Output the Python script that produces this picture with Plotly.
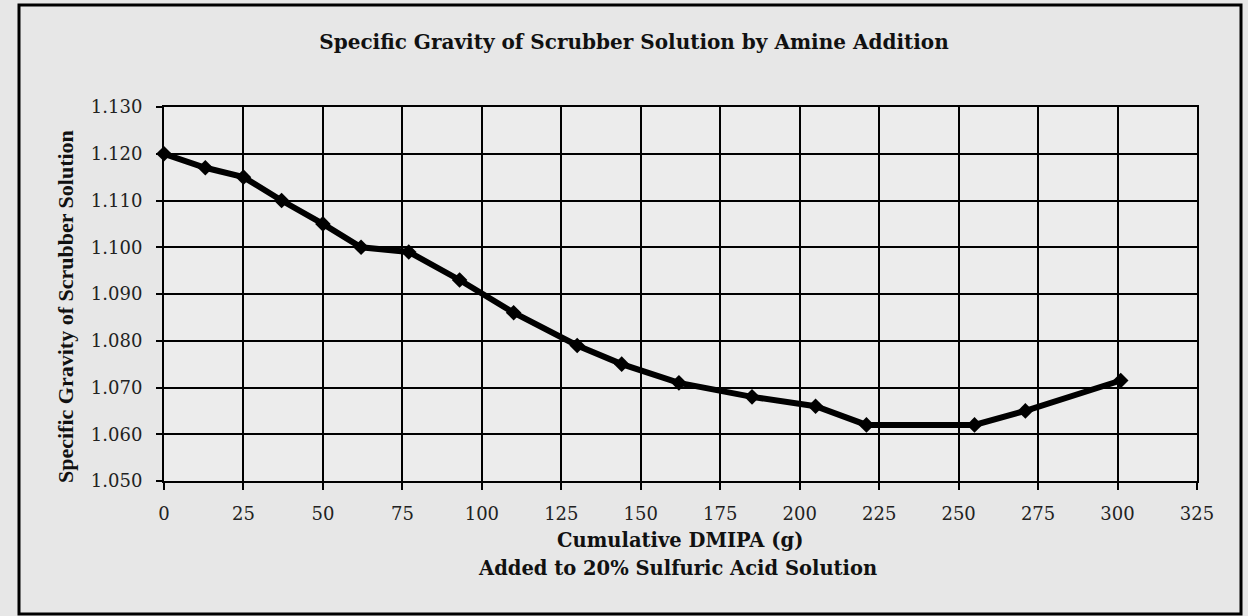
import plotly.graph_objects as go

# Data
dmipa_g = [0, 13, 25, 37, 50, 62, 77, 93, 110, 130, 144, 162, 185, 205, 221, 255, 271, 301]
specific_gravity = [1.120, 1.117, 1.115, 1.110, 1.105, 1.100, 1.099, 1.093, 1.086, 1.079,
                    1.075, 1.071, 1.068, 1.066, 1.062, 1.062, 1.065, 1.0715]
x_ticks = [0, 25, 50, 75, 100, 125, 150, 175, 200, 225, 250, 275, 300, 325]
y_ticks = [1.050, 1.060, 1.070, 1.080, 1.090, 1.100, 1.110, 1.120, 1.130]

title_text = "Specific Gravity of Scrubber Solution by Amine Addition"
x_title_1 = "Cumulative DMIPA (g)"
x_title_2 = "Added to 20% Sulfuric Acid Solution"
y_title = "Specific Gravity of Scrubber Solution"

W, H = 1248, 616
L, R, T, B = 164, 51, 107, 135
pw, ph = W - L - R, H - T - B

def px(xp):
    return (xp - L) / pw

def py(yp):
    return (H - B - yp) / ph

serif = "DejaVu Serif"
times = "Liberation Serif"

fig = go.Figure()
fig.add_trace(go.Scatter(
    x=dmipa_g, y=specific_gravity, mode="lines+markers",
    line=dict(color="black", width=6),
    marker=dict(symbol="diamond", size=12, color="black"),
    cliponaxis=False, showlegend=False,
))

fig.update_layout(
    width=W, height=H,
    margin=dict(l=L, r=R, t=T, b=B),
    paper_bgcolor="#e7e7e7",
    plot_bgcolor="#ececec",
    title=dict(text="<b>" + title_text + "</b>", x=634 / W, y=1 - 42 / H,
               xanchor="center", yanchor="middle", xref="container", yref="container",
               font=dict(family=serif, size=20, color="#111")),
    xaxis=dict(range=[0, 325], tickvals=x_ticks, ticktext=[str(v) for v in x_ticks],
               showgrid=True, gridcolor="black", gridwidth=2,
               showline=True, linecolor="black", linewidth=2, mirror=True,
               ticks="outside", ticklen=7, tickwidth=2, tickcolor="black",
               tickfont=dict(family=serif, size=18, color="#222"), zeroline=False,
               ticklabelstandoff=8),
    yaxis=dict(range=[1.05, 1.13], tickvals=y_ticks, ticktext=["%.3f" % v for v in y_ticks],
               showgrid=True, gridcolor="black", gridwidth=2,
               showline=True, linecolor="black", linewidth=2, mirror=True,
               ticks="outside", ticklen=6, tickwidth=2, tickcolor="black",
               tickfont=dict(family=serif, size=18, color="#222"), zeroline=False,
               ticklabelstandoff=10),
    shapes=[dict(type="rect", xref="paper", yref="paper",
                 x0=px(19), x1=px(1241), y0=py(614), y1=py(5),
                 line=dict(color="black", width=3))],
    annotations=[
        dict(text="<b>" + x_title_1 + "</b>", xref="paper", yref="paper",
             x=px(680), y=py(540), xanchor="center", yanchor="middle", showarrow=False,
             font=dict(family=serif, size=19.5, color="#111")),
        dict(text="<b>" + x_title_2 + "</b>", xref="paper", yref="paper",
             x=px(677), y=py(568), xanchor="center", yanchor="middle", showarrow=False,
             font=dict(family=serif, size=19.5, color="#111")),
        dict(text="<b>" + y_title + "</b>", xref="paper", yref="paper",
             x=px(65), y=py(307), xanchor="center", yanchor="middle", showarrow=False,
             textangle=-90, font=dict(family=times, size=22, color="#111")),
    ],
)

fig.write_html("out.html", config={"displayModeBar": False},
               post_script="document.body.style.margin='0px';document.body.style.overflow='hidden';")
